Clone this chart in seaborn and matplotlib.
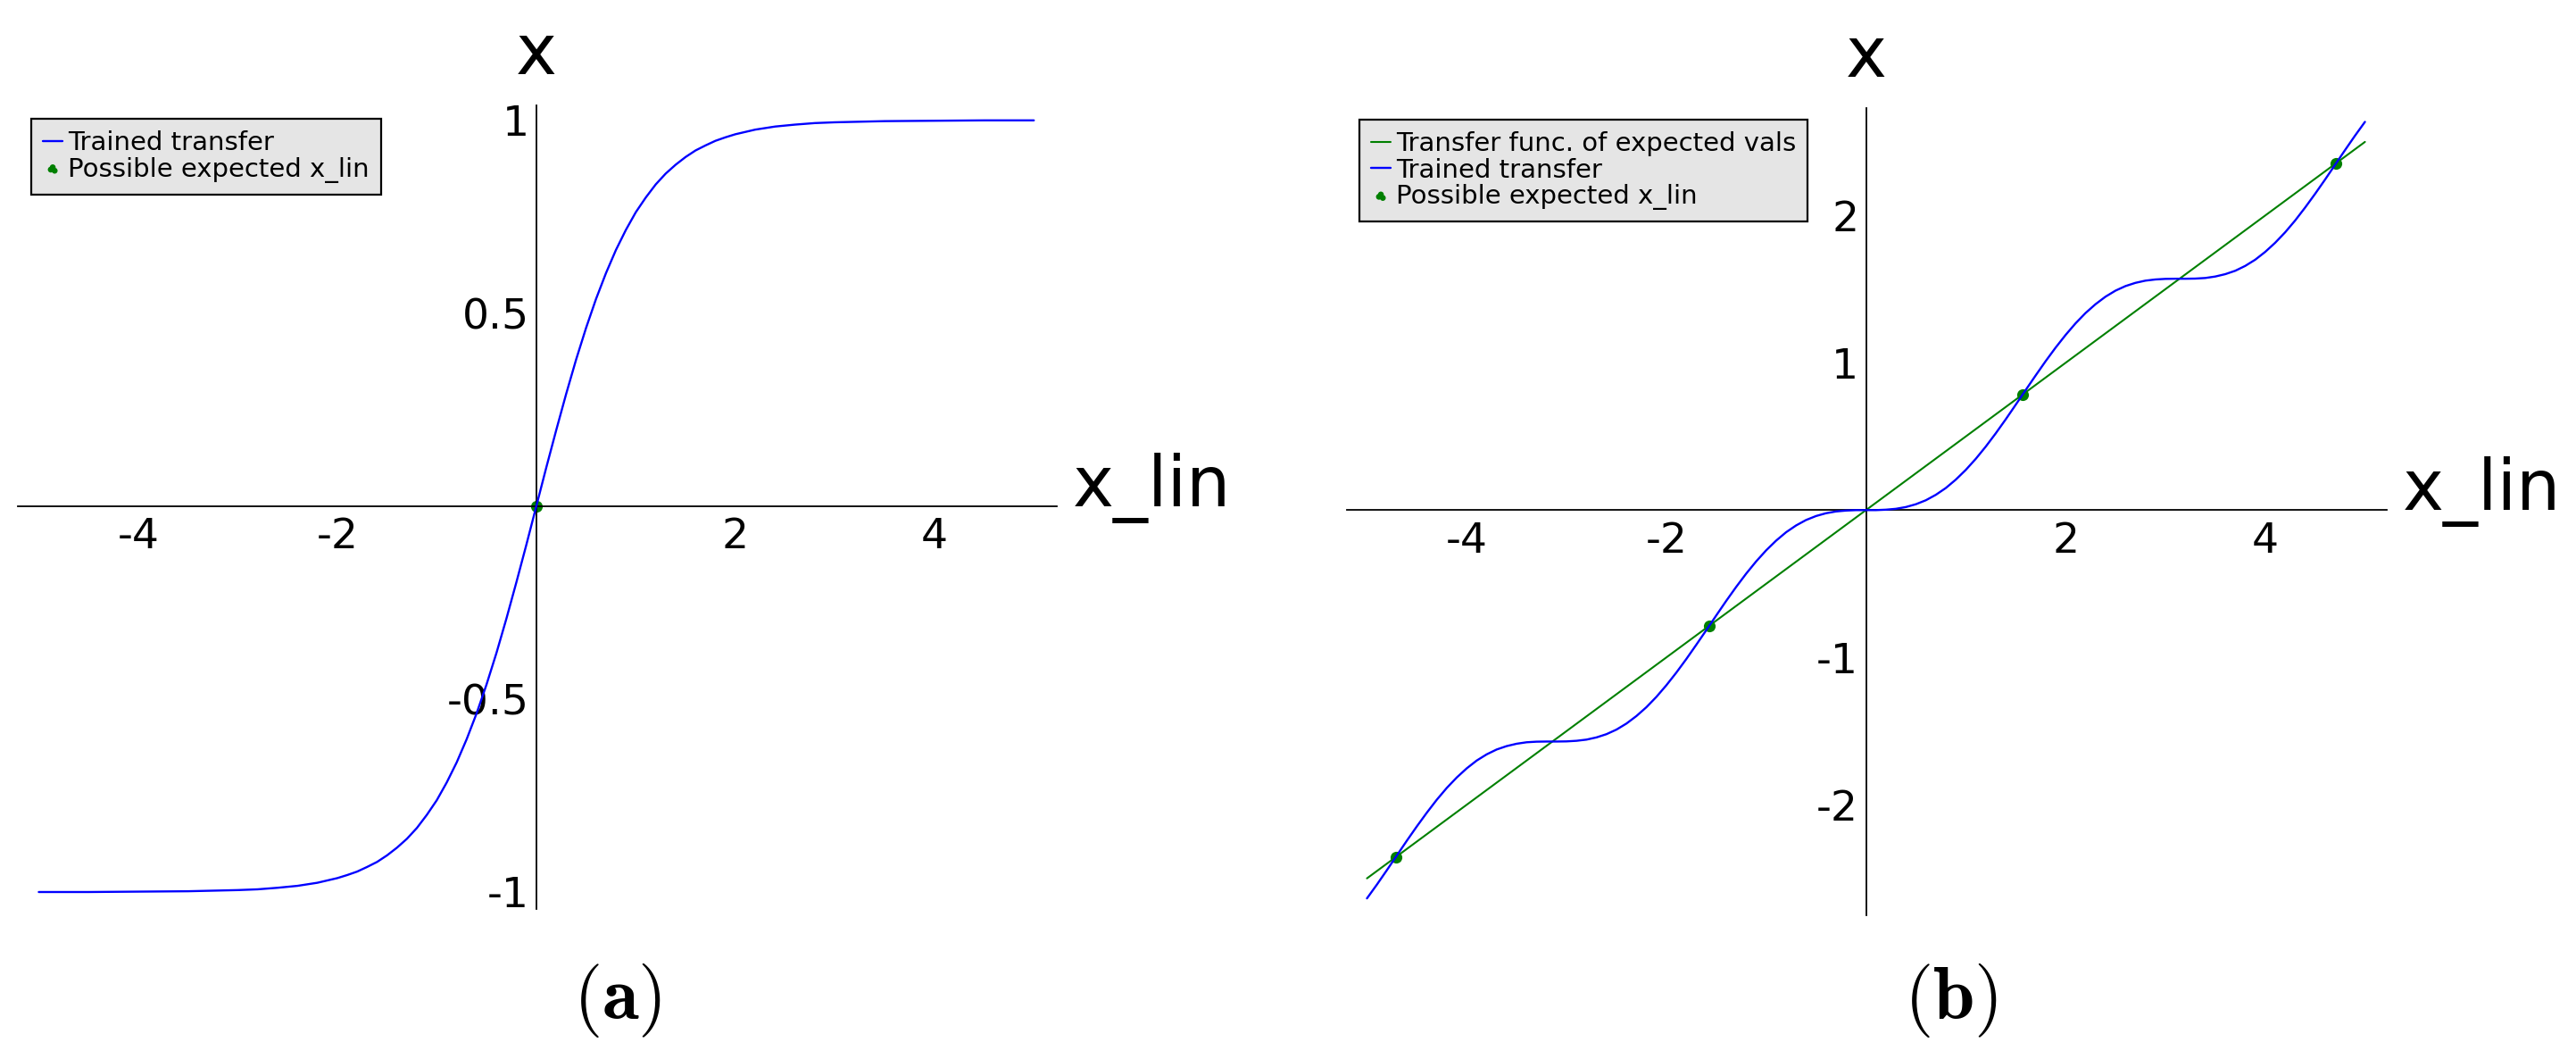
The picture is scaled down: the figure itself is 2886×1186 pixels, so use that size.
import matplotlib
matplotlib.use('Agg')
import matplotlib.pyplot as plt
import seaborn as sns
from matplotlib.ticker import MultipleLocator

# (a) trained transfer
a_x = [-5.0, -4.5, -4.0, -3.5, -3.0, -2.8, -2.6, -2.4, -2.2, -2.0, -1.9, -1.8, -1.7, -1.6, -1.5,
       -1.4, -1.3, -1.2, -1.1, -1.0, -0.9, -0.8, -0.7, -0.6, -0.5, -0.4, -0.3, -0.2, -0.1, 0.0,
       0.1, 0.2, 0.3, 0.4, 0.5, 0.6, 0.7, 0.8, 0.9, 1.0, 1.1, 1.2, 1.3, 1.4, 1.5, 1.6, 1.7, 1.8,
       1.9, 2.0, 2.2, 2.4, 2.6, 2.8, 3.0, 3.5, 4.0, 4.5, 5.0]
a_y = [-1.0, -1.0, -0.999, -0.998, -0.995, -0.993, -0.989, -0.984, -0.976, -0.964, -0.956, -0.947,
       -0.935, -0.922, -0.905, -0.885, -0.862, -0.834, -0.8, -0.762, -0.716, -0.664, -0.604, -0.537,
       -0.462, -0.38, -0.291, -0.197, -0.1, 0.0, 0.1, 0.197, 0.291, 0.38, 0.462, 0.537, 0.604, 0.664,
       0.716, 0.762, 0.8, 0.834, 0.862, 0.885, 0.905, 0.922, 0.935, 0.947, 0.956, 0.964, 0.976,
       0.984, 0.989, 0.993, 0.995, 0.998, 0.999, 1.0, 1.0]
a_pts_x = [0.0]
a_pts_y = [0.0]

# (b) trained transfer vs. linear transfer of expected values
b_x = [-5.0, -4.9, -4.8, -4.7, -4.6, -4.5, -4.4, -4.3, -4.2, -4.1,
       -4.0, -3.9, -3.8, -3.7, -3.6, -3.5, -3.4, -3.3, -3.2, -3.1,
       -3.0, -2.9, -2.8, -2.7, -2.6, -2.5, -2.4, -2.3, -2.2, -2.1,
       -2.0, -1.9, -1.8, -1.7, -1.6, -1.5, -1.4, -1.3, -1.2, -1.1,
       -1.0, -0.9, -0.8, -0.7, -0.6, -0.5, -0.4, -0.3, -0.2, -0.1,
       0.0, 0.1, 0.2, 0.3, 0.4, 0.5, 0.6, 0.7, 0.8, 0.9,
       1.0, 1.1, 1.2, 1.3, 1.4, 1.5, 1.6, 1.7, 1.8, 1.9,
       2.0, 2.1, 2.2, 2.3, 2.4, 2.5, 2.6, 2.7, 2.8, 2.9,
       3.0, 3.1, 3.2, 3.3, 3.4, 3.5, 3.6, 3.7, 3.8, 3.9,
       4.0, 4.1, 4.2, 4.3, 4.4, 4.5, 4.6, 4.7, 4.8, 4.9, 5.0]
b_y = [-2.636, -2.542, -2.444, -2.344, -2.244, -2.147, -2.054, -1.966, -1.886, -1.815,
       -1.753, -1.700, -1.658, -1.625, -1.602, -1.586, -1.576, -1.572, -1.571, -1.571,
       -1.570, -1.566, -1.558, -1.543, -1.521, -1.490, -1.449, -1.398, -1.338, -1.268,
       -1.189, -1.103, -1.011, -0.914, -0.815, -0.715, -0.616, -0.521, -0.431, -0.348,
       -0.273, -0.207, -0.150, -0.104, -0.067, -0.040, -0.021, -0.009, -0.003, -0.000,
       0.0, 0.000, 0.003, 0.009, 0.021, 0.040, 0.067, 0.104, 0.150, 0.207,
       0.273, 0.348, 0.431, 0.521, 0.616, 0.715, 0.815, 0.914, 1.011, 1.103,
       1.189, 1.268, 1.338, 1.398, 1.449, 1.490, 1.521, 1.543, 1.558, 1.566,
       1.570, 1.571, 1.571, 1.572, 1.576, 1.586, 1.602, 1.625, 1.658, 1.700,
       1.753, 1.815, 1.886, 1.966, 2.054, 2.147, 2.244, 2.344, 2.444, 2.542, 2.636]
lin_x = [-5.0, 5.0]
lin_y = [-2.5, 2.5]
b_pts_x = [-4.712, -1.571, 1.571, 4.712]
b_pts_y = [-2.356, -0.785, 0.785, 2.356]

a_xticks = [-4, -2, 2, 4]
a_yticks = [-1, -0.5, 0.5, 1]
a_yticklabels = ['-1', '-0.5', '0.5', '1']
b_xticks = [-4, -2, 2, 4]
b_yticks = [-2, -1, 1, 2]

sns.set_style('white')
plt.rcParams['font.family'] = ['DejaVu Sans']
plt.rcParams['axes.unicode_minus'] = False
plt.rcParams['mathtext.fontset'] = 'cm'
for key in ['text.color', 'axes.labelcolor', 'xtick.color', 'ytick.color', 'axes.edgecolor']:
    plt.rcParams[key] = 'black'

fig = plt.figure(figsize=(28.86, 11.86), dpi=100)
ax_a = fig.add_axes([0.00693, 0.14165, 0.4033, 0.7589])
ax_b = fig.add_axes([0.5229, 0.1358, 0.4037, 0.7622])

BLUE = '#0000ff'
GREEN = '#008000'


def style_axes(ax, xlim, ylim, xminor, yminor):
    ax.set_xlim(*xlim)
    ax.set_ylim(*ylim)
    for side in ['top', 'right']:
        ax.spines[side].set_visible(False)
    for side in ['left', 'bottom']:
        ax.spines[side].set_position('zero')
        ax.spines[side].set_linewidth(1.3)
        ax.spines[side].set_color('black')
    ax.xaxis.set_minor_locator(MultipleLocator(xminor))
    ax.yaxis.set_minor_locator(MultipleLocator(yminor))
    ax.tick_params(which='major', direction='in', length=8, width=1.0, colors='black', labelsize=34)
    ax.tick_params(which='minor', direction='in', length=4.3, width=0.8, colors='black')
    ax.tick_params(axis='x', which='major', pad=9)
    ax.tick_params(axis='y', which='major', pad=6)
    ax.set_xlabel('')
    ax.set_ylabel('')
    ax.grid(False)
    ax.annotate('x', xy=(0, ylim[1]), xytext=(0, 25), textcoords='offset points',
                ha='center', va='baseline', fontsize=56, color='black')
    ax.annotate('x_lin', xy=(xlim[1], 0), xytext=(13, 0), textcoords='offset points',
                ha='left', va='baseline', fontsize=56, color='black')


# panel (a)
sns.lineplot(x=a_x, y=a_y, ax=ax_a, color=BLUE, linewidth=1.7, estimator=None, sort=False,
             label='Trained transfer', zorder=3)
sns.scatterplot(x=a_pts_x, y=a_pts_y, ax=ax_a, color=GREEN, s=90, linewidth=0,
                label='Possible expected x_lin', zorder=2.5)
style_axes(ax_a, (-5.21, 5.23), (-1.044, 1.039), 0.5, 0.1)
ax_a.set_xticks(a_xticks, [str(t) for t in a_xticks])
ax_a.set_yticks(a_yticks, a_yticklabels)

# panel (b)
sns.lineplot(x=lin_x, y=lin_y, ax=ax_b, color=GREEN, linewidth=1.5, estimator=None, sort=False,
             label='Transfer func. of expected vals', zorder=2)
sns.lineplot(x=b_x, y=b_y, ax=ax_b, color=BLUE, linewidth=1.7, estimator=None, sort=False,
             label='Trained transfer', zorder=3)
sns.scatterplot(x=b_pts_x, y=b_pts_y, ax=ax_b, color=GREEN, s=90, linewidth=0,
                label='Possible expected x_lin', zorder=2.5)
style_axes(ax_b, (-5.20, 5.22), (-2.75, 2.73), 0.5, 0.2)
ax_b.set_xticks(b_xticks, [str(t) for t in b_xticks])
ax_b.set_yticks(b_yticks, [str(t) for t in b_yticks])

for ax, anchor in [(ax_a, (35 / 2886, 1 - 133 / 1186)), (ax_b, (1523 / 2886, 1 - 134 / 1186))]:
    leg = ax.legend(loc='upper left', bbox_to_anchor=anchor, bbox_transform=fig.transFigure,
                    borderaxespad=0, fontsize=21, handlelength=0.75, handletextpad=0.2,
                    labelspacing=0.05, borderpad=0.45, scatterpoints=3, markerscale=0.5,
                    fancybox=False, framealpha=1, facecolor='#e5e5e5', edgecolor='black')
    leg.get_frame().set_linewidth(1.6)
    for txt in leg.get_texts():
        txt.set_color('black')

fig.text(692 / 2886, 1 - 1120 / 1186, r'$\mathbf{(a)}$', ha='center', va='center', fontsize=60)
fig.text(2185 / 2886, 1 - 1120 / 1186, r'$\mathbf{(b)}$', ha='center', va='center', fontsize=60)

fig.savefig('out.png', dpi=100)
